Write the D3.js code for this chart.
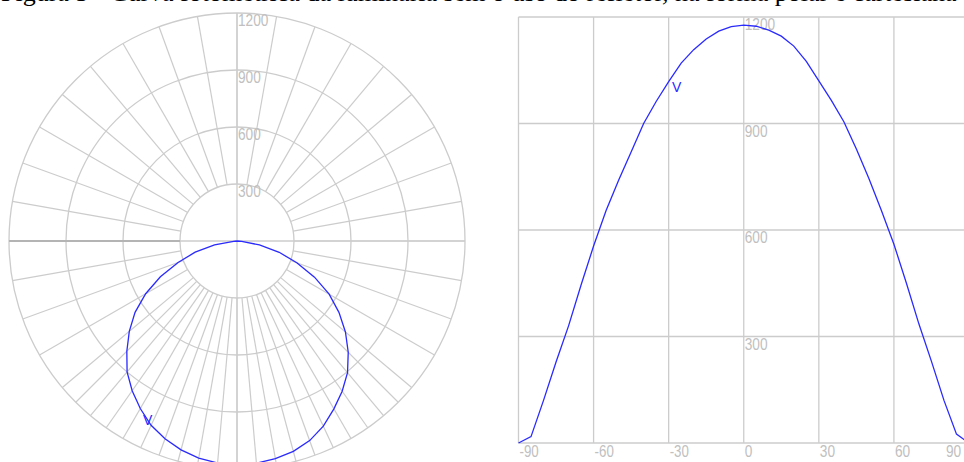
<!DOCTYPE html>
<html>
<head>
<meta charset="utf-8">
<script src="https://cdn.jsdelivr.net/npm/d3@7"></script>
<style>
  html, body { margin: 0; padding: 0; background: #fff; }
  svg { display: block; }
  .lbl { font-family: "Liberation Sans", Arial, sans-serif; font-size: 16px; fill: #c0c0c0; }
</style>
</head>
<body>
<svg id="chart" width="964" height="462"></svg>
<script>
// Luminous intensity (cd) of the luminaire against the vertical angle (degrees, 0 = nadir)
const angles = [-90, -85, -80, -75, -70, -65, -60, -55, -50, -45, -40, -35, -30, -25, -20, -15, -10, -5,
                0, 5, 10, 15, 20, 25, 30, 35, 40, 45, 50, 55, 60, 65, 70, 75, 80, 85, 90];
const intensity = [0, 18, 120, 228, 330, 445, 555, 655, 740, 820, 900, 962, 1018, 1070, 1108, 1138, 1160, 1173,
                   1177, 1174, 1163, 1146, 1118, 1075, 1020, 965, 905, 828, 745, 655, 560, 450, 335, 230, 120, 25, 0];
const intensityTicks = [300, 600, 900, 1200];
const angleTicks = [-90, -60, -30, 0, 30, 60, 90];
const curveName = "V";
const caption = "Figura 5 - Curva fotométrica da luminária sem o uso do refletor, na forma polar e cartesiana";

const data = angles.map((a, i) => ({ a, v: intensity[i] }));
const svg = d3.select("#chart");
const gridColor = "#cccccc";
const curveColor = "#2a2aff";

// narrow digits: each tick label is squeezed to a fixed width per character
const narrow = sel => sel
  .attr("textLength", d => String(d).replace("-", "").length * 7.6 + (String(d).startsWith("-") ? 4 : 0))
  .attr("lengthAdjust", "spacingAndGlyphs");

// caption line, mostly above the visible area
svg.append("text")
  .attr("x", 1).attr("y", 1)
  .attr("font-family", "Liberation Serif, Times New Roman, serif")
  .attr("font-size", 26).attr("fill", "#000")
  .text(caption);

// ---------- polar diagram ----------
const cx = 237, cy = 241;
const r = d3.scaleLinear().domain([0, 1200]).range([0, 228]);
const polar = svg.append("g").attr("transform", `translate(${cx},${cy})`);
const toRad = d => d * Math.PI / 180;

// spokes: every 10 degrees, plus 5-degree spokes around the nadir
const spokes = d3.range(0, 360, 10).concat(d3.range(-45, 46, 5).filter(d => d % 10 !== 0));
polar.selectAll("line.spoke").data(spokes).join("line")
  .attr("class", "spoke")
  .attr("x1", d => r(300) * Math.sin(toRad(d)))
  .attr("y1", d => r(300) * Math.cos(toRad(d)))
  .attr("x2", d => r(1200) * Math.sin(toRad(d)))
  .attr("y2", d => r(1200) * Math.cos(toRad(d)))
  .attr("stroke", gridColor).attr("stroke-width", 1.2);

polar.selectAll("circle.ring").data(intensityTicks).join("circle")
  .attr("class", "ring")
  .attr("r", d => r(d))
  .attr("fill", "none").attr("stroke", gridColor).attr("stroke-width", 1.3);

// axes through the centre
polar.append("line").attr("x1", 0).attr("x2", 0).attr("y1", -r(1200)).attr("y2", r(1200))
  .attr("stroke", gridColor).attr("stroke-width", 1.3);
polar.append("line").attr("x1", -r(1200)).attr("x2", r(1200)).attr("y1", 0).attr("y2", 0)
  .attr("stroke", gridColor).attr("stroke-width", 1.3);
polar.append("line").attr("x1", -r(1200)).attr("x2", -r(300)).attr("y1", 0).attr("y2", 0)
  .attr("stroke", "#b4b4b4").attr("stroke-width", 2);

polar.selectAll("text.rl").data(intensityTicks).join("text")
  .attr("class", "lbl rl")
  .attr("x", 1).attr("y", d => -r(d) + 13)
  .text(d => d)
  .call(narrow);

const radial = d3.lineRadial()
  .angle(d => Math.PI - toRad(d.a))
  .radius(d => r(d.v));
polar.append("path").datum(data)
  .attr("d", radial)
  .attr("fill", "none").attr("stroke", curveColor).attr("stroke-width", 1.3);

polar.append("text")
  .attr("x", 143 - cx).attr("y", 425 - cy)
  .attr("font-family", "Liberation Sans, Arial, sans-serif").attr("font-size", 14)
  .attr("fill", curveColor).text(curveName);

// ---------- cartesian diagram ----------
const x = d3.scaleLinear().domain([-90, 90]).range([518.5, 969]);
const y = d3.scaleLinear().domain([0, 1200]).range([443, 17]);
const cart = svg.append("g");

cart.selectAll("line.vg").data(angleTicks).join("line")
  .attr("class", "vg")
  .attr("x1", d => x(d)).attr("x2", d => x(d)).attr("y1", y(1200)).attr("y2", y(0))
  .attr("stroke", gridColor).attr("stroke-width", 1.3);
cart.selectAll("line.hg").data([0].concat(intensityTicks)).join("line")
  .attr("class", "hg")
  .attr("x1", x(-90)).attr("x2", x(90)).attr("y1", d => y(d)).attr("y2", d => y(d))
  .attr("stroke", gridColor).attr("stroke-width", 1.3);

cart.selectAll("text.yl").data(intensityTicks).join("text")
  .attr("class", "lbl yl")
  .attr("x", x(0) + 1).attr("y", d => y(d) + 13)
  .text(d => d)
  .call(narrow);
cart.selectAll("text.xl").data(angleTicks).join("text")
  .attr("class", "lbl xl")
  .attr("x", d => Math.min(x(d) + 1, 946)).attr("y", y(0) + 14)
  .text(d => d)
  .call(narrow);

const line = d3.line().x(d => x(d.a)).y(d => y(d.v));
cart.append("path").datum(data)
  .attr("d", line)
  .attr("fill", "none").attr("stroke", curveColor).attr("stroke-width", 1.3);

cart.append("text")
  .attr("x", 672).attr("y", 92)
  .attr("font-family", "Liberation Sans, Arial, sans-serif").attr("font-size", 14)
  .attr("fill", curveColor).text(curveName);
</script>
</body>
</html>
